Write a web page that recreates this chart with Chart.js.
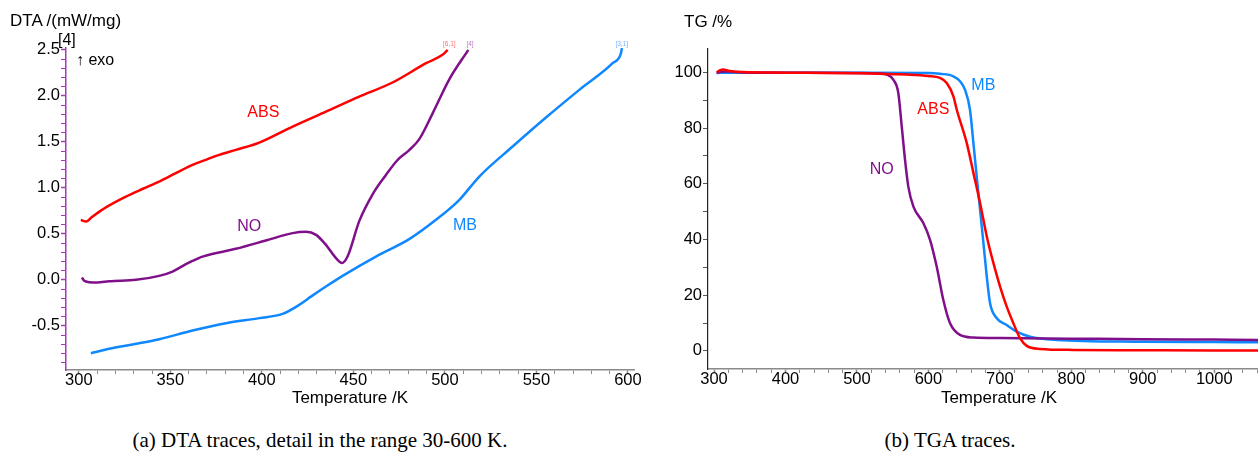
<!DOCTYPE html>
<html>
<head>
<meta charset="utf-8">
<script src="https://cdn.jsdelivr.net/npm/chart.js@4.4.1/dist/chart.umd.min.js"></script>
<style>
  html, body { margin: 0; padding: 0; background: #fff; }
  body { width: 1258px; height: 455px; position: relative; overflow: hidden; font-family: "Liberation Sans", Arial, sans-serif; color: #000; }
  canvas { position: absolute; top: 0; }
  #dta-chart { left: 0; }
  #tga-chart { left: 640px; }
  .note { position: absolute; line-height: 1; white-space: nowrap; }
  .caption { position: absolute; top: 430px; font-family: "Liberation Serif", "Times New Roman", serif; font-size: 21px; line-height: 1; transform: translateX(-50%); white-space: nowrap; }
</style>
</head>
<body>
<!-- the TGA plot runs past the right edge of the page, as in the source figure -->
<canvas id="dta-chart" width="660" height="410"></canvas>
<canvas id="tga-chart" width="650" height="410"></canvas>

<div class="note" style="left:10px; top:12px; font-size:17px;">DTA /(mW/mg)</div>
<div class="note" style="left:58px; top:32px; font-size:16px;">[4]</div>
<div class="note" style="left:76px; top:52px; font-size:16px;">↑ exo</div>
<div class="note" style="left:684px; top:13px; font-size:17px;">TG /%</div>

<div class="caption" style="left:320px;">(a) DTA traces, detail in the range 30-600 K.</div>
<div class="caption" style="left:950px;">(b) TGA traces.</div>

<script>
// DTA (left), temperature in K, signal in mW/mg
const absDtaT = [301.1, 303.9, 307.5, 315, 325.7, 335, 343.9, 353, 362.1, 370, 376.7, 385.8, 398.6, 416.8, 435, 453.2, 471.4, 489.7, 498.7, 501.5];
const absDtaV = [0.652, 0.634, 0.688, 0.79, 0.905, 0.99, 1.068, 1.16, 1.25, 1.31, 1.359, 1.413, 1.492, 1.666, 1.829, 1.992, 2.145, 2.355, 2.446, 2.5];

const noDtaT = [301.7, 303, 305.7, 310, 316.6, 331.2, 343.9, 351.2, 358.5, 362, 367.6, 385.8, 402.2, 416.8, 424.1, 429.6, 435, 440.5, 443.8, 446.8, 453.2, 460.5, 467.8, 474, 480.5, 486, 493.3, 502.4, 512.8];
const noDtaV = [0.025, -0.011, -0.025, -0.03, -0.015, 0.0, 0.043, 0.09, 0.17, 0.205, 0.253, 0.337, 0.427, 0.508, 0.522, 0.489, 0.38, 0.236, 0.182, 0.253, 0.638, 0.93, 1.14, 1.3, 1.41, 1.53, 1.81, 2.18, 2.5];

const mbDtaT = [306.6, 316.6, 330, 343.9, 362.1, 380.4, 398.6, 411.3, 420.4, 427, 435, 444.1, 462.3, 480.5, 495.1, 507.9, 518.8, 537, 555.2, 573.4, 591.6, 596.2, 596.7];
const mbDtaV = [-0.797, -0.75, -0.7, -0.645, -0.551, -0.471, -0.416, -0.37, -0.272, -0.18, -0.073, 0.043, 0.253, 0.442, 0.652, 0.87, 1.123, 1.449, 1.764, 2.065, 2.355, 2.464, 2.52];

// TGA (right), temperature in K, mass in %
const absTgT = [303.7, 308, 313, 320, 340, 400, 500, 569.7, 600, 616.3, 625.7, 635, 639.7, 653.7, 663, 672.3, 681.7, 691, 700.3, 709.6, 718.9, 728.2, 737.6, 756.2, 802.8, 900, 1000, 1061, 1106];
const absTgV = [100, 100.7, 101, 100.6, 100.1, 99.9, 99.7, 99.2, 98.7, 98, 96.2, 91.4, 86.6, 74.6, 63.9, 53.1, 41.1, 31.5, 23.1, 15.9, 9.95, 4.56, 1.8, 0.72, 0.36, 0.25, 0.15, 0.1, 0.08];

const noTgT = [303.7, 310, 320, 340, 400, 500, 530, 541.7, 550.9, 557.9, 562.7, 567.3, 571.9, 578.9, 592.9, 602.3, 611.6, 620.9, 630.3, 644.2, 662.9, 700, 800, 900, 1000, 1061, 1106];
const noTgV = [99.8, 100.2, 100.3, 100, 99.9, 99.8, 99.6, 99.2, 97.4, 92.6, 80.6, 68.6, 59, 51.9, 45.9, 39.9, 30.3, 18.3, 9.95, 5.75, 4.8, 4.6, 4.4, 4.2, 4.05, 3.95, 3.9];

const mbTgT = [303.7, 320, 400, 500, 600, 616.3, 635, 644.2, 651.2, 658.2, 663, 667.6, 672.3, 677, 681.7, 686.3, 695.7, 709.6, 723.6, 742.2, 779.6, 896.1, 1000, 1061, 1106];
const mbTgV = [99.8, 99.9, 99.9, 99.9, 99.8, 99.5, 98.6, 96.8, 93.8, 86.6, 74.6, 62.6, 50.7, 38.7, 26.7, 17.1, 11.75, 9.3, 6.9, 5.1, 3.95, 3.3, 3.15, 3.1, 3.05];

// tick labels
const dtaXLabels = [300, 350, 400, 450, 500, 550, 600];
const dtaYLabels = [-0.5, 0.0, 0.5, 1.0, 1.5, 2.0, 2.5];
const tgaXLabels = [300, 400, 500, 600, 700, 800, 900, 1000];
const tgaYLabels = [0, 20, 40, 60, 80, 100];

const RED = '#ff0000';
const PURPLE = '#80108a';
const BLUE = '#0f87ff';
const FONT = '"Liberation Sans", Arial, sans-serif';

Chart.defaults.color = '#000';
Chart.defaults.font.family = FONT;

const toPoints = (xs, ys) => xs.map((x, i) => ({ x, y: ys[i] }));

// minor ticks every `step` from `from` to `to`
function stepTicks(from, to, step) {
  const out = [];
  const n = Math.round((to - from) / step);
  for (let i = 0; i <= n; i++) out.push({ value: Math.round((from + i * step) * 1000) / 1000 });
  return out;
}

const isLabel = (list, v) => list.some((m) => Math.abs(m - v) < 1e-6);

const textLabels = {
  id: 'textLabels',
  afterDatasetsDraw(chart, args, opts) {
    const { ctx, scales: { x, y } } = chart;
    ctx.save();
    ctx.textAlign = 'center';
    ctx.textBaseline = 'middle';
    for (const item of opts.items) {
      ctx.font = `${item.size}px ${FONT}`;
      ctx.fillStyle = item.color;
      ctx.fillText(item.text, x.getPixelForValue(item.x), y.getPixelForValue(item.y));
    }
    ctx.restore();
  }
};

function line(label, data, color) {
  return {
    label,
    data,
    borderColor: color,
    borderWidth: 2.5,
    pointRadius: 0,
    fill: false,
    cubicInterpolationMode: 'monotone'
  };
}

function xAxis(min, max, step, labels, height) {
  return {
    type: 'linear',
    min,
    max,
    afterBuildTicks: (scale) => { scale.ticks = stepTicks(labels[0], Math.floor(max / step) * step, step); },
    afterFit: (scale) => { scale.height = height; },
    border: { display: true, color: '#8a8a8a', width: 1.5 },
    grid: {
      drawOnChartArea: false,
      tickLength: 4,
      tickColor: '#8a8a8a',
      tickWidth: (ctx) => (isLabel(labels, ctx.tick.value) ? 1.5 : 1)
    },
    ticks: {
      autoSkip: false,
      maxRotation: 0,
      padding: -3,
      font: { size: 16.5 },
      callback: (v) => (isLabel(labels, v) ? String(v) : '')
    },
    title: {
      display: true,
      text: 'Temperature /K',
      font: { size: 17 },
      padding: { top: 0, bottom: 1 }
    }
  };
}

new Chart(document.getElementById('dta-chart'), {
  type: 'line',
  data: {
    datasets: [
      line('ABS', toPoints(absDtaT, absDtaV), RED),
      line('NO', toPoints(noDtaT, noDtaV), PURPLE),
      line('MB', toPoints(mbDtaT, mbDtaV), BLUE)
    ]
  },
  options: {
    responsive: false,
    animation: false,
    events: [],
    layout: { padding: { top: 48, right: 26, left: 0, bottom: 0 } },
    plugins: {
      legend: { display: false },
      tooltip: { enabled: false },
      textLabels: {
        items: [
          { text: 'ABS', x: 400.8, y: 1.815, color: RED, size: 16 },
          { text: 'NO', x: 393.1, y: 0.579, color: PURPLE, size: 16 },
          { text: 'MB', x: 511, y: 0.59, color: BLUE, size: 16 },
          { text: '[6,1]', x: 502.4, y: 2.565, color: '#ff7070', size: 6.5 },
          { text: '[4]', x: 513.7, y: 2.565, color: '#b878c8', size: 6.5 },
          { text: '[3,1]', x: 596.6, y: 2.565, color: '#70b0ff', size: 6.5 }
        ]
      }
    },
    scales: {
      x: xAxis(293, 603.3, 10, dtaXLabels, 40),
      y: {
        type: 'linear',
        min: -0.98,
        max: 2.52,
        afterBuildTicks: (scale) => { scale.ticks = stepTicks(-0.9, 2.5, 0.1); },
        afterFit: (scale) => { scale.width = 66; },
        border: { display: true, color: '#a23bb5', width: 1.5 },
        grid: {
          drawOnChartArea: false,
          tickLength: 5,
          tickColor: '#a23bb5',
          tickWidth: (ctx) => (isLabel(dtaYLabels, ctx.tick.value) ? 1.5 : 1)
        },
        ticks: {
          autoSkip: false,
          padding: 1,
          font: { size: 16.5 },
          callback: (v) => (isLabel(dtaYLabels, v) ? v.toFixed(1) : '')
        }
      }
    }
  },
  plugins: [textLabels]
});

new Chart(document.getElementById('tga-chart'), {
  type: 'line',
  data: {
    datasets: [
      line('ABS', toPoints(absTgT, absTgV), RED),
      line('NO', toPoints(noTgT, noTgV), PURPLE),
      line('MB', toPoints(mbTgT, mbTgV), BLUE)
    ]
  },
  options: {
    responsive: false,
    animation: false,
    events: [],
    layout: { padding: { top: 49, right: 0, left: 0, bottom: 0 } },
    plugins: {
      legend: { display: false },
      tooltip: { enabled: false },
      textLabels: {
        items: [
          { text: 'MB', x: 676.9, y: 95.2, color: BLUE, size: 16 },
          { text: 'ABS', x: 606.9, y: 86.6, color: RED, size: 16 },
          { text: 'NO', x: 534.7, y: 65, color: PURPLE, size: 16 }
        ]
      }
    },
    scales: {
      x: xAxis(291.6, 1106, 20, tgaXLabels, 41),
      y: {
        type: 'linear',
        min: -6.5,
        max: 108.4,
        afterBuildTicks: (scale) => { scale.ticks = stepTicks(0, 100, 10); },
        afterFit: (scale) => { scale.width = 68; },
        border: { display: true, color: '#222', width: 1.2 },
        grid: {
          drawOnChartArea: false,
          tickLength: 5,
          tickColor: '#555',
          tickWidth: 1
        },
        ticks: {
          autoSkip: false,
          padding: 1,
          font: { size: 16.5 },
          callback: (v) => (isLabel(tgaYLabels, v) ? String(v) : '')
        }
      }
    }
  },
  plugins: [textLabels]
});
</script>
</body>
</html>
